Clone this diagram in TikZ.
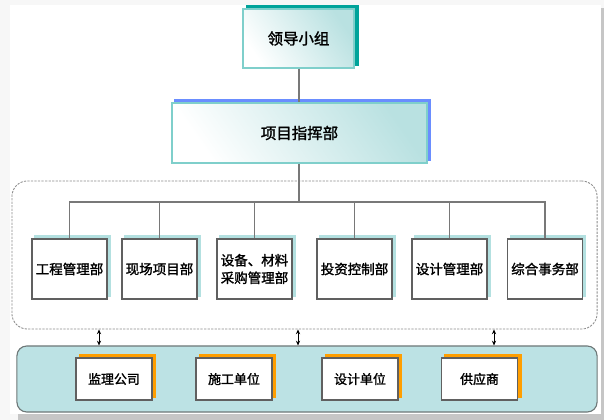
\documentclass[tikz,border=0pt]{standalone}
\usepackage{fontspec}
\newfontfamily\cjk[AutoFakeBold=1.6]{Noto Sans CJK SC}
\usepackage{tikz}
\usetikzlibrary{calc,backgrounds,arrows.meta}

\definecolor{boxteal}{HTML}{7FCFCB}
\definecolor{lightteal}{HTML}{B9E1E1}
\definecolor{darkteal}{HTML}{00A39A}
\definecolor{shadeblue}{HTML}{6A8DFF}
\definecolor{deptshade}{HTML}{B3E0E0}
\definecolor{unitorange}{HTML}{FF9E00}
\definecolor{panelfill}{HTML}{BCE2E4}
\definecolor{panelline}{HTML}{6E7878}
\definecolor{linegray}{HTML}{787878}

\tikzset{
  topbox/.style={draw=boxteal, line width=0.8pt, inner sep=0pt,
    left color=white, right color=lightteal, shading angle=125,
    font=\cjk\bfseries\fontsize{11}{13}\selectfont},
  deptbox/.style={draw=linegray!80!black, line width=0.8pt, fill=white, inner sep=0pt,
    minimum width=1.875cm, minimum height=1.5cm, align=center,
    font=\cjk\bfseries\fontsize{9.6}{12.5}\selectfont},
  unitbox/.style={draw=linegray!80!black, line width=0.8pt, fill=white, inner sep=0pt,
    minimum width=1.9cm, minimum height=1.05cm,
    font=\cjk\bfseries\fontsize{9.2}{11}\selectfont},
  bus/.style={draw=linegray, line width=1.1pt},
  link/.style={line width=0.5pt, {Stealth[length=3.4pt,width=3pt]}-{Stealth[length=3.4pt,width=3pt]}}
}

\begin{document}
\begin{tikzpicture}[x=0.025cm,y=-0.025cm]
\useasboundingbox (0,0) rectangle (604,420);
% page, its shadow and the outside panel
\begin{scope}[on background layer]
\fill[gray!6] (0,0) rectangle (604,420);
\fill[gray!45] (18,413) rectangle (604,420);
\fill[gray!45] (600,8) rectangle (604,420);
\fill[white] (10,5) rectangle (601,414);
\node[
      draw=panelline,
      fill=panelfill,
      line width=0.8pt,
      rounded corners=7pt,
      minimum width=14.5cm,
      minimum height=1.65cm
] (ext) at (307,379) {};
\end{scope}

\node[topbox,
      minimum width=2.775cm,
      minimum height=1.475cm
] (lead) at (298.5,38.5) {领导小组};

\node[topbox,
      minimum width=6.375cm,
      minimum height=1.5cm
] (cmd) at (299.5,133) {项目指挥部};

\node[
      draw=gray!90,
      dash pattern=on 1.6pt off 0.9pt,
      line width=0.6pt,
      rounded corners=11pt,
      minimum width=14.625cm,
      minimum height=3.7cm
] (grp) at (304.5,255) {};

\coordinate (hub) at (299,202);

\node[deptbox] (d1) at (69.5,269) {工程管理部};
\node[deptbox] (d2) at (159.5,269) {现场项目部};
\node[deptbox] (d3) at (254.5,269) {设备、材料\\采购管理部};
\node[deptbox] (d4) at (354.5,269) {投资控制部};
\node[deptbox] (d5) at (449.5,269) {设计管理部};
\node[deptbox] (d6) at (545,269) {综合事务部};

\node[unitbox] (u1) at (114,379) {监理公司};
\node[unitbox] (u2) at (234,379) {施工单位};
\node[unitbox] (u3) at (360,379) {设计单位};
\node[unitbox] (u4) at (479.5,379) {供应商};

% offset shadows behind the boxes
\begin{scope}[on background layer]
\foreach \n/\c/\dx in {lead/darkteal/4, cmd/shadeblue/3, d1/deptshade/3, d2/deptshade/3,
    d3/deptshade/3, d4/deptshade/3, d5/deptshade/3, d6/deptshade/3,
    u1/unitorange/3.5, u2/unitorange/3.5, u3/unitorange/3.5, u4/unitorange/3.5}
  \fill[\c] ($(\n.south west)+(\dx,-3)$) rectangle ($(\n.north east)+(\dx,-3)$);
\end{scope}

\draw[bus] (lead.south -| 299,0) -- (cmd.north -| 299,0);
\draw[bus] (cmd.south -| 299,0) -- (hub);
\foreach \d in {d1,d2,d3,d4,d5,d6}
  \draw[bus] (\d.north) |- (hub);

\foreach \ax in {99,298,494}
  \draw[link] (grp.south -| \ax,0) -- (ext.north -| \ax,0);
\end{tikzpicture}
\end{document}
